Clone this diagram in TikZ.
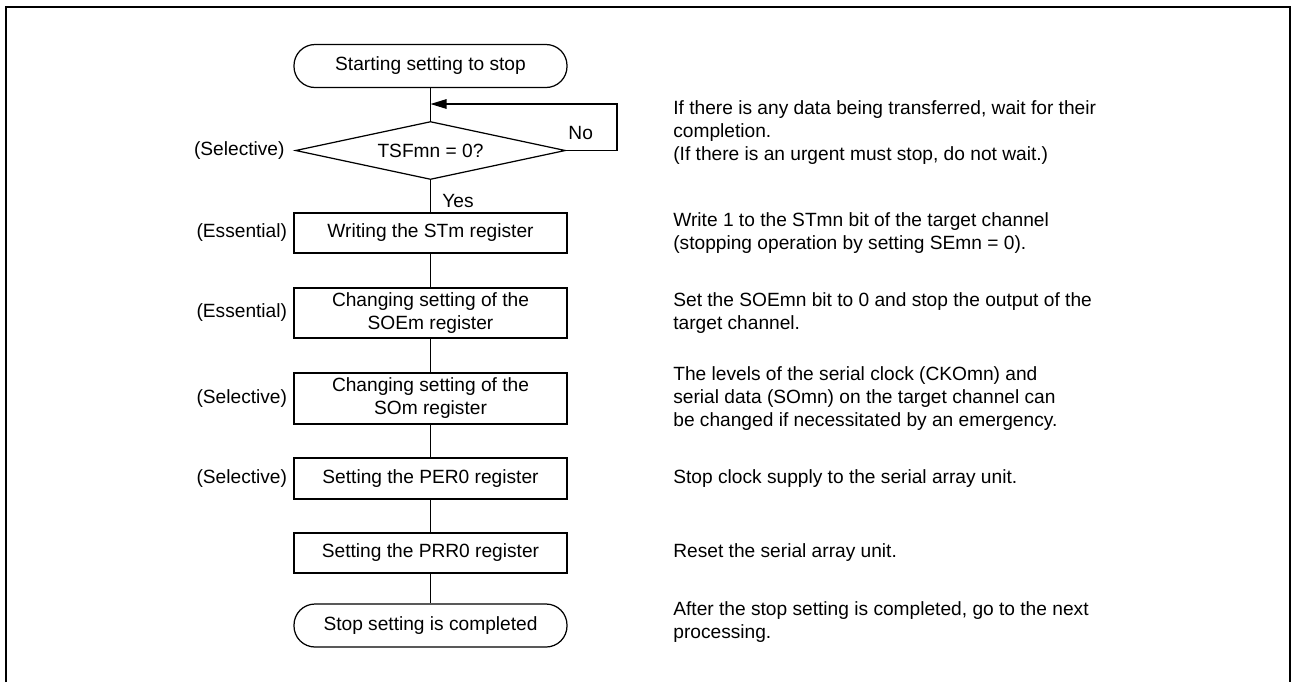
\documentclass[tikz,border=0pt]{standalone}
\usepackage{fontspec}
\setmainfont{Liberation Sans}
\usepackage{tikz}
\usetikzlibrary{positioning,arrows.meta,shapes.geometric}

\newcommand{\flowfont}{\fontsize{10.9pt}{13.1pt}\selectfont}

\begin{document}
\begin{tikzpicture}[
  pbox/.style={draw=black, line width=0.7pt, rectangle, minimum width=5.46cm,
    minimum height=0.8cm, align=center, font=\flowfont, inner sep=0pt},
  tbox/.style={pbox, rounded corners=0.42cm, minimum height=0.86cm},
  dbox/.style={draw=black, line width=0.7pt, diamond, aspect=4.6, minimum width=5.4cm,
    minimum height=1.16cm, align=center, font=\flowfont, inner sep=0pt},
  lbl/.style={font=\flowfont, inner sep=0pt},
  note/.style={font=\flowfont, inner sep=0pt, anchor=west, align=left},
  line/.style={draw=black, line width=0.7pt},
  arr/.style={line, -{Triangle[length=0.32cm, width=0.19cm]}}
]
\useasboundingbox (0,0) rectangle (25.84,-13.64);
\draw[line width=1.3pt] (0.12,-13.64) |- (25.8,-0.14) -- (25.8,-13.64);

% flow
\node[tbox] (start) at (8.61, -1.32) {Starting setting to stop};
\node[dbox] (dia)   at (8.61, -3.01) {TSFmn = 0?};
\node[pbox] (wr)    at (8.61, -4.66) {Writing the STm register};
\node[pbox, minimum height=1.0cm] (soe) at (8.61, -6.26) {Changing setting of the\\SOEm register};
\node[pbox, minimum height=1.02cm] (som) at (8.61, -7.97) {Changing setting of the\\SOm register};
\node[pbox, minimum height=0.82cm] (per) at (8.61, -9.57) {Setting the PER0 register};
\node[pbox] (prr)   at (8.61, -11.06) {Setting the PRR0 register};
\node[tbox] (stop)  at (8.61, -12.51) {Stop setting is completed};

\coordinate (join)  at (8.61, -2.08);
\coordinate (loopc) at (12.34, -2.08);

\draw[line] (start) -- (dia);
\draw[arr] (dia.east) -| (loopc) -- (join);
\draw[line] (dia) -- (wr);
\draw[line] (wr) -- (soe);
\draw[line] (soe) -- (som);
\draw[line] (som) -- (per);
\draw[line] (per) -- (prr);
\draw[line] (prr) -- (stop);

\node[lbl, above right=0.2cm and 0.04cm of dia.east] {No};
\node[lbl, below right=0.28cm and 0.23cm of dia.south] {Yes};

% left marks
\node[lbl, left=0.2cm of dia.west] {(Selective)};
\node[lbl, left=0.12cm of wr]  {(Essential)};
\node[lbl, left=0.12cm of soe] {(Essential)};
\node[lbl, left=0.12cm of som] {(Selective)};
\node[lbl, left=0.12cm of per] {(Selective)};

% notes
\node[note] (n1) at (13.46, -2.66) {If there is any data being transferred, wait for their\\completion.\\(If there is an urgent must stop, do not wait.)};
\node[note] (n2) at (13.46, -4.66) {Write 1 to the STmn bit of the target channel\\(stopping operation by setting SEmn = 0).};
\node[note] (n3) at (13.46, -6.26) {Set the SOEmn bit to 0 and stop the output of the\\target channel.};
\node[note] (n4) at (13.46, -7.97) {The levels of the serial clock (CKOmn) and\\serial data (SOmn) on the target channel can\\be changed if necessitated by an emergency.};
\node[note] (n5) at (13.46, -9.57) {Stop clock supply to the serial array unit.};
\node[note] (n6) at (13.46, -11.06) {Reset the serial array unit.};
\node[note] (n7) at (13.46, -12.45) {After the stop setting is completed, go to the next\\processing.};
\end{tikzpicture}
\end{document}
